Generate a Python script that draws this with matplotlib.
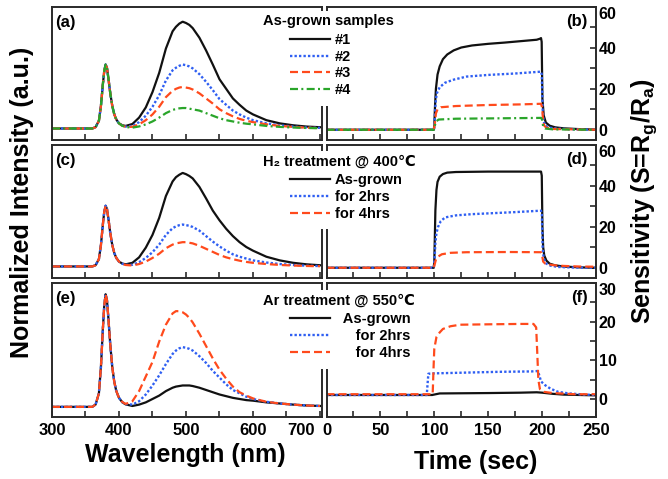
import matplotlib
matplotlib.use('Agg')
import matplotlib.pyplot as plt
from matplotlib.ticker import FixedLocator
from matplotlib.transforms import ScaledTranslation

plt.rcParams['font.family'] = ['Liberation Sans', 'DejaVu Sans']
plt.rcParams['font.weight'] = 'bold'
plt.rcParams['mathtext.fontset'] = 'custom'
plt.rcParams['mathtext.rm'] = 'Liberation Sans:bold'
plt.rcParams['mathtext.it'] = 'Liberation Sans:bold'
plt.rcParams['mathtext.bf'] = 'Liberation Sans:bold'

# ---------------- data: PL spectra (normalized to UV peak) ----------------
wavelength = [300, 340, 360, 365, 370, 373, 376, 378, 380, 382, 384, 387, 390, 393, 396,
              400, 405, 410, 420, 430, 440, 450, 460, 470, 480, 485, 490, 495, 500, 505, 510, 520,
              530, 540, 550, 560, 570, 580, 590, 600, 620, 640, 660, 680, 700]
uv_part = [0, 0, 0, 0.02, 0.12, 0.35, 0.70, 0.90, 1.00, 0.95, 0.80, 0.55, 0.35, 0.22, 0.14]

a_s1 = uv_part + [0.08, 0.05, 0.04, 0.07, 0.17, 0.33, 0.57, 0.87, 1.25, 1.52, 1.59, 1.64, 1.67, 1.65, 1.62, 1.57, 1.42,
                  1.22, 1.00, 0.77, 0.62, 0.47, 0.37, 0.28, 0.22, 0.13, 0.08, 0.05, 0.03, 0.02]
a_s2 = uv_part + [0.08, 0.045, 0.03, 0.04, 0.10, 0.20, 0.34, 0.52, 0.75, 0.91, 0.95, 0.98, 1.00, 0.99, 0.97, 0.94, 0.85,
                  0.73, 0.60, 0.46, 0.37, 0.28, 0.22, 0.17, 0.13, 0.08, 0.05, 0.03, 0.015, 0.01]
a_s3 = uv_part + [0.08, 0.043, 0.026, 0.026, 0.065, 0.13, 0.22, 0.34, 0.49, 0.59, 0.62, 0.64, 0.65, 0.64, 0.63, 0.61, 0.55,
                  0.47, 0.39, 0.30, 0.24, 0.19, 0.15, 0.12, 0.10, 0.065, 0.04, 0.025, 0.012, 0.006]
a_s4 = uv_part + [0.08, 0.042, 0.023, 0.013, 0.032, 0.064, 0.11, 0.17, 0.24, 0.29, 0.305, 0.315, 0.32, 0.32, 0.31, 0.30, 0.28,
                  0.24, 0.20, 0.16, 0.13, 0.11, 0.09, 0.075, 0.065, 0.04, 0.025, 0.015, 0.008, 0.004]

c_asgrown = uv_part + [0.08, 0.048, 0.035, 0.06, 0.15, 0.31, 0.52, 0.80, 1.16, 1.40, 1.47, 1.51, 1.54, 1.52, 1.49, 1.45, 1.31,
                       1.12, 0.92, 0.76, 0.62, 0.50, 0.40, 0.32, 0.26, 0.16, 0.10, 0.06, 0.035, 0.02]
c_2hrs = uv_part + [0.08, 0.044, 0.027, 0.028, 0.07, 0.14, 0.235, 0.36, 0.52, 0.63, 0.66, 0.68, 0.69, 0.68, 0.67, 0.65, 0.59,
                    0.50, 0.41, 0.33, 0.26, 0.20, 0.16, 0.13, 0.10, 0.065, 0.04, 0.025, 0.012, 0.007]
c_4hrs = uv_part + [0.08, 0.042, 0.024, 0.016, 0.04, 0.08, 0.14, 0.21, 0.30, 0.36, 0.38, 0.39, 0.40, 0.40, 0.39, 0.38, 0.34,
                    0.29, 0.24, 0.19, 0.15, 0.12, 0.095, 0.075, 0.06, 0.04, 0.025, 0.015, 0.008, 0.004]

e_asgrown = uv_part + [0.08, 0.04, 0.022, 0.008, 0.02, 0.04, 0.07, 0.10, 0.14, 0.17, 0.18, 0.185, 0.19, 0.19, 0.19, 0.185, 0.17,
                       0.15, 0.13, 0.11, 0.095, 0.08, 0.07, 0.06, 0.055, 0.04, 0.03, 0.02, 0.012, 0.008]
e_2hrs = uv_part + [0.08, 0.042, 0.025, 0.02, 0.05, 0.11, 0.19, 0.28, 0.38, 0.47, 0.50, 0.52, 0.53, 0.525, 0.515, 0.50, 0.45,
                    0.39, 0.32, 0.26, 0.20, 0.15, 0.12, 0.09, 0.07, 0.045, 0.03, 0.02, 0.012, 0.008]
e_4hrs = uv_part + [0.08, 0.043, 0.026, 0.05, 0.14, 0.27, 0.40, 0.58, 0.73, 0.83, 0.85, 0.85, 0.84, 0.82, 0.79, 0.75, 0.65,
                    0.54, 0.43, 0.33, 0.25, 0.18, 0.13, 0.10, 0.075, 0.045, 0.03, 0.02, 0.012, 0.008]

# ---------------- data: sensitivity transients ----------------
tb_1 = [0, 99.5, 100, 100.7, 101.5, 103, 105, 108, 112, 118, 125, 135, 150, 165, 180, 195, 198, 199,
        199.6, 200.3, 201.5, 203.5, 207, 212, 220, 235, 250]
sb_1 = [0, 0, 2, 12, 20, 27, 31, 34.5, 36.8, 38.8, 40.2, 41.2, 42, 42.6, 43.3, 44, 44.5, 44.8,
        43, 15, 7, 3.5, 2, 1.2, 0.7, 0.3, 0.1]
tb_2 = [0, 99.5, 100, 100.8, 101.5, 102.5, 105, 110, 118, 130, 150, 175, 199, 199.7, 200.5, 201.5,
        203, 207, 215, 230, 250]
sb_2 = [0, 0, 1, 10, 15, 18, 20.8, 23, 24.5, 26, 26.8, 27.5, 28.4, 27, 10, 4, 2, 1, 0.5, 0.2, 0]
tb_3 = [0, 99.5, 100.5, 101.5, 103, 106, 120, 150, 180, 199, 200, 201, 202, 204, 210, 250]
sb_3 = [0, 0, 3, 8, 10, 11, 11.6, 12.1, 12.4, 12.7, 11, 4, 2, 1, 0.4, 0]
tb_4 = [0, 99.5, 100.5, 101.5, 104, 120, 160, 199, 200, 201, 203, 210, 250]
sb_4 = [0, 0, 2, 4, 5.0, 5.4, 5.6, 5.8, 5, 1.5, 0.6, 0.2, 0]

td_1 = [0, 99.5, 100, 100.5, 101, 102, 103, 105, 108, 112, 120, 150, 199, 199.7, 200.3, 201, 202,
        204, 207, 212, 220, 235, 250]
sd_1 = [0, 0, 3, 15, 28, 38, 42, 44.5, 45.8, 46.5, 46.8, 47, 47, 45, 20, 10, 6, 3.5, 2, 1.2, 0.6, 0.2, 0]
td_2 = [0, 99.5, 100.3, 101, 102, 103.5, 106, 110, 120, 135, 155, 175, 199, 199.8, 200.5, 201.5,
        204, 208, 215, 230, 250]
sd_2 = [0, 0, 5, 12, 17, 20, 22.8, 24.6, 25.6, 26.2, 26.7, 27.2, 27.9, 26, 10, 4.5, 2, 1, 0.4, 0.1, 0]
td_3 = [0, 99.5, 100.5, 101.5, 103, 107, 115, 130, 170, 199, 200, 201, 203, 210, 220, 235, 250]
sd_3 = [0, 0, 2, 4, 5.3, 6.6, 7.3, 7.6, 7.7, 7.6, 6, 3, 2, 1.3, 0.9, 0.6, 0.5]

tf_1 = [0, 98, 105, 150, 180, 195, 200, 210, 220, 250]
sf_1 = [1.0, 1.0, 1.4, 1.5, 1.6, 1.7, 1.6, 1.3, 1.1, 0.9]
tf_2 = [0, 93, 93.8, 94.5, 100, 130, 160, 190, 196, 197.5, 199, 203, 208, 215, 225, 240, 250]
sf_2 = [1.0, 1.0, 4, 6.5, 6.6, 6.8, 7.0, 7.1, 7.2, 6, 4.5, 3.5, 2.6, 1.8, 1.4, 1.1, 1.0]
tf_3 = [0, 98.5, 99.3, 100, 102, 105, 108, 115, 124, 150, 180, 192, 194.5, 195.5, 196.5, 198, 202,
        210, 230, 250]
sf_3 = [1.2, 1.2, 8, 13, 16, 17.2, 18.1, 18.8, 19.2, 19.3, 19.4, 19.4, 18.5, 12, 5, 2.5, 1.8, 1.5, 1.2, 1.2]

legend_a = ['#1', '#2', '#3', '#4']
legend_c = ['As-grown', 'for 2hrs', 'for 4hrs']
legend_e = ['  As-grown', '     for 2hrs', '     for 4hrs']
titles = ['As-grown samples', 'H\u2082 treatment @ 400\u2103', 'Ar treatment @ 550\u2103']
panel_tags = ['(a)', '(b)', '(c)', '(d)', '(e)', '(f)']

# ---------------- styles ----------------
K, B, R, G = '#111111', '#2f5ff2', '#ff4a1c', '#2aa52a'
st_k = dict(color=K, lw=1.6, ls='-')
st_b = dict(color=B, lw=1.7, ls=(0, (1, 0.9)))
st_r = dict(color=R, lw=1.6, ls=(0, (3.6, 1.8)))
st_g = dict(color=G, lw=1.6, ls=(0, (3.6, 1.5, 0.9, 1.5)))

W, H = 668, 479
fig = plt.figure(figsize=(W / 100, H / 100), dpi=100)


def box(x0, y0, x1, y1):
    return [x0 / W, 1 - y1 / H, (x1 - x0) / W, (y1 - y0) / H]


rows = [(7, 140), (145, 278), (283, 417)]
spine_c = '#2a2a2a'


def style_spines(ax):
    for s in ax.spines.values():
        s.set_linewidth(1.4)
        s.set_color(spine_c)


def style_left(ax, ylim, last):
    ax.set_xlim(300, 703)
    ax.set_ylim(*ylim)
    ax.xaxis.set_major_locator(FixedLocator([300, 400, 500, 600, 700]))
    ax.xaxis.set_minor_locator(FixedLocator([350, 450, 550, 650]))
    ax.tick_params(axis='x', which='both', direction='in', length=4, width=1.2, color=spine_c,
                   top=False, bottom=True, labelbottom=last, labelsize=12, pad=4.5)
    ax.tick_params(axis='y', which='both', left=False, right=False, labelleft=False)
    style_spines(ax)


def style_right(ax, ylim, majors, minors, last):
    ax.set_xlim(0, 250)
    ax.set_ylim(*ylim)
    ax.xaxis.set_major_locator(FixedLocator([0, 50, 100, 150, 200, 250]))
    ax.xaxis.set_minor_locator(FixedLocator([25, 75, 125, 175, 225]))
    ax.yaxis.set_major_locator(FixedLocator(majors))
    ax.yaxis.set_minor_locator(FixedLocator(minors))
    ax.tick_params(axis='x', which='both', direction='in', length=4, width=1.2, color=spine_c,
                   top=False, bottom=True, labelbottom=last, labelsize=12, pad=4.5)
    ax.tick_params(axis='y', which='both', direction='in', length=4, width=1.2, color=spine_c,
                   left=False, right=True, labelleft=False, labelright=True, labelsize=11.5, pad=2)
    style_spines(ax)
    ticks = ax.yaxis.get_major_ticks()
    ticks[len(majors) - 1].label2.set_verticalalignment('top')


axL = [fig.add_axes(box(52, r[0], 322, r[1])) for r in rows]
axR = [fig.add_axes(box(326.5, r[0], 596, r[1])) for r in rows]

# (a)
la = []
la += axL[0].plot(wavelength, a_s1, **st_k)
la += axL[0].plot(wavelength, a_s2, **st_b)
la += axL[0].plot(wavelength, a_s3, **st_r)
la += axL[0].plot(wavelength, a_s4, **st_g)
style_left(axL[0], (-0.18, 1.9), False)
# (c)
lc = []
lc += axL[1].plot(wavelength, c_asgrown, **st_k)
lc += axL[1].plot(wavelength, c_2hrs, **st_b)
lc += axL[1].plot(wavelength, c_4hrs, **st_r)
style_left(axL[1], (-0.19, 2.0), False)
# (e)
le = []
le += axL[2].plot(wavelength, e_asgrown, **st_k)
le += axL[2].plot(wavelength, e_2hrs, **st_b)
le += axL[2].plot(wavelength, e_4hrs, **st_r)
style_left(axL[2], (-0.09, 1.10), True)
lab700 = axL[2].xaxis.get_major_ticks()[4].label1
lab700.set_horizontalalignment('right')
lab700.set_transform(lab700.get_transform() + ScaledTranslation(-4 / 72, 0, fig.dpi_scale_trans))

# (b)
axR[0].plot(tb_1, sb_1, **st_k)
axR[0].plot(tb_2, sb_2, **st_b)
axR[0].plot(tb_3, sb_3, **st_r)
axR[0].plot(tb_4, sb_4, **st_g)
style_right(axR[0], (-5, 60), [0, 20, 40, 60], [10, 30, 50], False)
# (d)
axR[1].plot(td_1, sd_1, **st_k)
axR[1].plot(td_2, sd_2, **st_b)
axR[1].plot(td_3, sd_3, **st_r)
style_right(axR[1], (-5, 60), [0, 20, 40, 60], [10, 30, 50], False)
# (f)
axR[2].plot(tf_1, sf_1, **st_k)
axR[2].plot(tf_2, sf_2, **st_b)
axR[2].plot(tf_3, sf_3, **st_r)
style_right(axR[2], (-4.7, 30), [0, 10, 20, 30], [5, 15, 25], True)

# panel tags
for i, ax in enumerate(axL):
    ax.text(0.012, 0.885, panel_tags[2 * i], transform=ax.transAxes, ha='left', va='center',
            fontsize=12, fontweight='bold')
for i, ax in enumerate(axR):
    ax.text(0.97, 0.89, panel_tags[2 * i + 1], transform=ax.transAxes, ha='right', va='center',
            fontsize=12, fontweight='bold')

# legends
fs = 10.5
fs_px = fs * 100 / 72
bp = 0.6
leg_specs = [(la, legend_a, 65, 21), (lc, legend_c, 196.9, 161.7), (le, legend_e, 336.2, 300.7)]
for handles, labels, yc, yt in leg_specs:
    fig.legend(handles, labels, loc='center left',
               bbox_to_anchor=((290 - bp * fs_px) / W, 1 - yc / H), bbox_transform=fig.transFigure,
               borderaxespad=0, borderpad=bp, handlelength=40 / fs_px, handletextpad=5 / fs_px,
               labelspacing=0.19, frameon=True, fancybox=False, facecolor='white', edgecolor='none',
               framealpha=1, prop=dict(size=fs, weight='bold'))
for (handles, labels, yc, yt), title in zip(leg_specs, titles):
    fig.text(263 / W, 1 - yt / H, title, ha='left', va='center', fontsize=fs, fontweight='bold',
             bbox=dict(fc='white', ec='none', pad=2.5), zorder=6)

# axis labels
fig.text(22 / W, 1 - 202 / H, 'Normalized Intensity (a.u.)', rotation=90, ha='center', va='center',
         fontsize=18, fontweight='bold')
fig.text(644 / W, 1 - 201 / H, 'Sensitivity (S=R$_g$/R$_a$)', rotation=90, ha='center', va='center',
         fontsize=18, fontweight='bold')
fig.text(185 / W, 1 - 455 / H, 'Wavelength (nm)', ha='center', va='center', fontsize=18, fontweight='bold')
fig.text(476 / W, 1 - 462 / H, 'Time (sec)', ha='center', va='center', fontsize=18, fontweight='bold')

fig.savefig('out.png', dpi=100, facecolor='white')
